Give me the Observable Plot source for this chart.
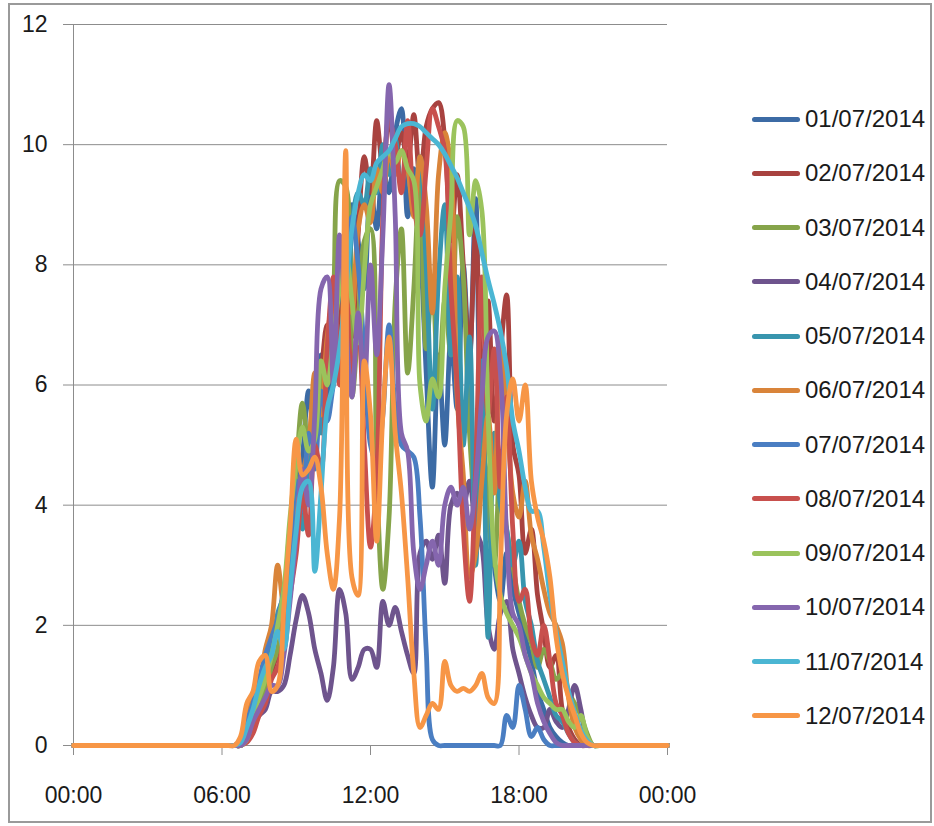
<!DOCTYPE html>
<html><head><meta charset="utf-8">
<script src="https://cdn.jsdelivr.net/npm/d3@7"></script>
<script src="https://cdn.jsdelivr.net/npm/@observablehq/plot@0.6"></script>
<style>
body{margin:0;background:#fff;font-family:"Liberation Sans",Arial,sans-serif;}
#wrap{position:relative;width:934px;height:826px;overflow:hidden;background:#fff;}
#frame{position:absolute;left:8px;top:3px;width:924px;height:820px;border:2px solid #9a9a9a;box-sizing:border-box;pointer-events:none;}
#chart{position:absolute;left:0;top:0;}
.item{position:absolute;left:752px;display:flex;align-items:center;white-space:nowrap;height:26px;}
.sw{width:48px;height:5px;border-radius:2.5px;margin-right:5px;}
.lab{font-size:24px;color:#1a1a1a;line-height:26px;}
</style></head>
<body><div id="wrap"><div id="chart"></div><div id="frame"></div></div>
<script>
const times = ["00:00","06:15","06:30","06:45","07:00","07:15","07:30","07:45","08:00","08:15","08:30","08:45",
  "09:00","09:15","09:30","09:45","10:00","10:15","10:30","10:45","11:00","11:15","11:30","11:45",
  "12:00","12:15","12:30","12:45","13:00","13:15","13:30","13:45","14:00","14:15","14:30","14:45",
  "15:00","15:15","15:30","15:45","16:00","16:15","16:30","16:45","17:00","17:15","17:30","17:45",
  "18:00","18:15","18:30","18:45","19:00","19:15","19:30","19:45","20:00","20:15","20:30","20:45","21:00","21:15","24:00"];

const seriesNames = ["01/07/2014","02/07/2014","03/07/2014","04/07/2014","05/07/2014","06/07/2014",
  "07/07/2014","08/07/2014","09/07/2014","10/07/2014","11/07/2014","12/07/2014"];
const seriesColors = ["#3c6ba5","#a8423f","#86a44a","#6e548d","#3895ae","#d9843a",
  "#4a7ec2","#c8504d","#9bc35c","#8566ae","#4bb6d3","#f79646"];

const s01 = [0,0, 0,0,0.15,0.4,0.7,1.0,1.3,1.5,2.0,3.0,4.0,4.8,5.9,5.0,6.5,5.8,7.4,8.2,7.0,9.0,8.4,7.6,9.3,8.6,9.6,9.2,10.2,10.6,8.8,9.6,8.4,6.2,4.3,6.5,5.0,6.8,5.6,8.0,6.4,9.1,5.0,4.4,3.0,2.4,3.2,2.6,2.2,1.8,1.4,0.9,0.6,0.3,0.15,0.05,0,0,0,0,0, 0,0];
const s02 = [0,0, 0,0,0.1,0.3,0.6,0.9,1.2,1.6,2.0,2.8,3.6,3.8,4.8,5.6,6.2,7.0,6.5,7.2,8.0,6.8,8.5,9.8,9.2,10.4,9.6,10.5,9.8,10.2,9.7,10.5,9.4,10.3,10.6,10.7,10.1,8.4,9.5,8.0,6.5,8.6,6.0,7.4,5.4,6.5,7.5,5.0,4.5,3.2,3.6,2.5,1.9,1.3,1.5,0.6,0.3,0.1,0,0,0, 0,0];
const s03 = [0,0, 0,0,0.1,0.3,0.6,0.9,1.3,1.6,2.3,3.5,4.6,5.7,5.0,5.4,6.0,6.6,7.5,9.4,9.3,5.8,7.0,8.4,8.6,4.5,2.6,3.8,7.4,8.6,6.2,7.6,9.5,6.6,7.7,5.9,7.4,6.5,8.8,7.8,5.2,4.0,5.4,3.8,3.0,4.8,3.6,3.0,2.4,2.0,1.7,1.3,1.6,1.4,1.1,1.2,0.9,0.7,0.5,0.2,0, 0,0];
const s04 = [0,0, 0,0,0.1,0.3,0.5,0.6,0.9,0.9,1.0,1.5,2.1,2.5,2.2,1.6,1.2,0.75,1.3,2.6,2.2,1.1,1.3,1.6,1.6,1.3,2.4,2.0,2.3,1.9,1.5,1.2,3.2,3.4,3.1,3.5,2.7,4.0,4.2,4.0,4.4,3.6,3.3,2.0,1.6,2.2,2.4,1.6,1.2,0.8,0.5,0.3,0.3,0.6,0.4,0.3,0.6,1.0,0.6,0.1,0, 0,0];
const s05 = [0,0, 0,0.05,0.3,0.5,0.9,1.4,1.6,2.2,2.5,3.3,4.2,3.6,4.9,5.8,5.2,6.5,7.2,8.0,6.8,8.6,9.2,9.0,9.6,9.2,10.0,9.5,10.1,9.4,9.6,8.9,9.8,8.0,5.6,7.8,9.0,6.5,7.8,5.0,6.8,3.0,6.4,1.8,5.2,4.0,3.6,3.0,3.4,2.4,2.0,1.4,1.1,0.8,0.5,0.4,0.2,0.05,0,0,0, 0,0];
const s06 = [0,0, 0,0.05,0.4,0.8,1.0,1.6,2.0,3.0,2.3,3.6,3.9,4.5,5.0,6.2,5.5,6.8,7.4,6.3,7.8,7.2,8.6,9.0,8.7,9.6,9.2,9.9,9.5,9.9,9.6,8.8,9.8,9.0,7.2,9.5,10.2,9.6,5.8,4.5,2.8,3.2,4.4,5.5,4.2,6.8,5.6,4.2,3.8,4.4,3.5,3.1,2.6,2.2,2.0,1.7,0.8,0.3,0.1,0,0, 0,0];
const s07 = [0,0, 0,0.1,0.4,0.7,1.1,1.5,1.8,2.1,2.6,3.2,4.4,3.9,5.2,4.6,5.9,5.4,6.0,6.5,7.5,8.8,8.0,6.5,5.0,4.7,5.5,7.0,5.6,5.0,4.9,4.8,3.8,1.6,0.1,0,0,0,0,0,0,0,0,0,0,0,0.5,0.3,1.0,0.6,0.15,0.3,0.1,0,0,0,0,0,0,0,0, 0,0];
const s08 = [0,0, 0,0,0.05,0.2,0.5,0.7,1.1,1.3,1.8,2.5,3.2,4.2,3.5,5.0,4.6,6.6,7.8,6.0,7.6,6.1,7.0,5.0,3.3,4.5,8.8,10.4,10.0,9.2,10.4,9.0,8.5,9.6,10.6,10.3,9.9,7.6,6.0,3.6,2.4,4.6,7.8,5.5,6.6,4.3,5.8,3.6,2.4,2.6,1.8,1.5,2.0,1.4,0.7,0.5,0.2,0.05,0,0,0, 0,0];
const s09 = [0,0, 0,0,0.1,0.5,0.8,1.1,1.5,2.0,2.6,3.8,4.7,5.3,4.9,5.1,6.4,6.0,6.8,7.6,8.2,7.4,6.7,7.9,9.0,9.3,9.6,9.9,9.7,9.9,9.6,9.4,6.0,5.4,6.1,5.8,7.6,8.9,10.4,10.3,8.5,9.4,8.9,5.5,3.2,2.5,2.2,2.0,1.8,1.5,1.2,1.0,0.8,0.7,0.6,0.6,0.4,0.3,0.5,0.15,0, 0,0];
const s10 = [0,0, 0,0,0.1,0.4,0.6,0.8,1.0,1.0,1.5,2.4,3.5,4.6,4.0,5.5,7.6,7.8,6.0,8.5,7.0,5.8,7.2,6.0,8.0,6.5,8.5,11.0,8.8,5.2,4.9,3.2,2.6,3.0,3.4,3.0,4.0,4.3,4.0,4.3,3.6,4.4,5.8,6.8,6.9,6.2,3.5,2.2,2.0,1.5,1.2,0.7,0.4,0.2,0.05,0,0,0,0,0,0, 0,0];
const s11 = [0,0, 0,0.05,0.3,0.6,1.0,1.3,1.5,1.9,1.6,2.6,3.6,4.3,4.4,2.9,4.2,5.6,6.0,6.6,7.6,8.6,9.2,9.5,9.4,9.7,9.8,9.9,10.1,10.3,10.35,10.35,10.3,10.2,10.1,10.0,9.85,9.65,9.45,9.2,8.95,8.65,8.2,7.75,7.35,6.9,6.3,5.4,4.9,4.3,3.9,3.9,3.3,2.5,1.9,1.4,0.9,0.55,0.25,0.08,0, 0,0];
const s12 = [0,0, 0,0.15,0.7,0.9,1.4,1.5,0.9,1.0,2.3,3.6,5.1,4.5,4.6,4.8,4.3,3.2,2.6,3.8,9.9,2.8,2.5,6.4,5.5,3.4,5.5,6.8,5.2,4.2,2.8,1.2,0.3,0.5,0.7,0.6,1.4,1.0,0.9,0.95,0.9,1.0,1.2,0.8,0.7,3.0,5.5,6.1,5.4,6.0,4.4,3.8,3.4,2.8,1.8,1.2,0.8,0.5,0.2,0.05,0, 0,0];

const seriesValues = [s01,s02,s03,s04,s05,s06,s07,s08,s09,s10,s11,s12];
const yTicks = [0,2,4,6,8,10,12];
const yTickLabels = ["0","2","4","6","8","10","12"];
const xTickHours = [0,6,12,18,24];
const xTickLabels = ["00:00","06:00","12:00","18:00","00:00"];

const hours = times.map(t => { const [h, m] = t.split(":").map(Number); return h + m / 60; });

const lineMarks = seriesValues.map((vals, k) => {
  if (vals.length !== times.length) console.warn(seriesNames[k], vals.length, times.length);
  const rows = hours.map((h, i) => ({x: h, v: vals[i]}));
  return Plot.line(rows, {x: "x", y: "v", stroke: seriesColors[k], strokeWidth: 4.8,
    curve: "catmull-rom", strokeLinejoin: "round", strokeLinecap: "round"});
});

const chart = Plot.plot({
  width: 934, height: 826,
  marginLeft: 73, marginRight: 267, marginTop: 24, marginBottom: 81,
  style: {fontFamily: "'Liberation Sans', Arial, sans-serif", fontSize: "23px", background: "transparent", overflow: "visible"},
  x: {domain: [0, 24]},
  y: {domain: [0, 12]},
  marks: [
    Plot.gridY(yTicks, {stroke: "#8c8c8c", strokeOpacity: 1, strokeWidth: 1}),
    Plot.ruleX([0], {y1: 0, y2: 12, stroke: "#8c8c8c", strokeWidth: 1}),
    Plot.axisY(yTicks, {tickSize: 10, tickPadding: 16, stroke: "#8c8c8c", fill: "#1a1a1a", label: null,
      tickFormat: d => yTickLabels[yTicks.indexOf(d)]}),
    Plot.axisX(xTickHours, {tickSize: 10, tickPadding: 31, stroke: "#8c8c8c", fill: "#1a1a1a", label: null,
      tickFormat: d => xTickLabels[xTickHours.indexOf(d)]}),
    ...lineMarks
  ]
});
document.getElementById("chart").appendChild(chart);

const wrap = document.getElementById("wrap");
seriesNames.forEach((name, k) => {
  const item = document.createElement("div");
  item.className = "item";
  item.style.top = (119 + k * 54.27 - 13) + "px";
  item.innerHTML = `<div class="sw" style="background:${seriesColors[k]}"></div><span class="lab">${name}</span>`;
  wrap.appendChild(item);
});
</script></body></html>
